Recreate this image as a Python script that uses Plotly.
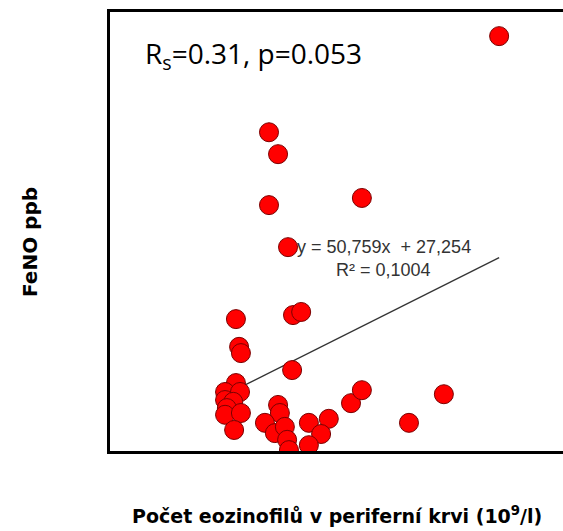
import plotly.graph_objects as go

# Eosinophil count in peripheral blood (10^9/l) and FeNO (ppb)
eos = [0.859, 0.351, 0.371, 0.351, 0.556, 0.393, 0.278, 0.404, 0.422, 0.285,
       0.289, 0.402, 0.278, 0.254, 0.287, 0.254, 0.272, 0.258, 0.254, 0.289,
       0.274, 0.371, 0.375, 0.342, 0.364, 0.386, 0.391, 0.395, 0.439, 0.483,
       0.466, 0.439, 0.532, 0.556, 0.660, 0.737]
feno = [120.4, 98.9, 94.0, 82.6, 84.2, 73.2, 57.1, 58.0, 58.7, 50.9,
        49.5, 45.7, 42.8, 40.8, 40.8, 39.0, 38.6, 37.2, 35.7, 36.1,
        32.3, 37.9, 36.1, 33.9, 31.6, 33.0, 30.1, 27.8, 33.9, 34.8,
        31.4, 28.9, 38.3, 41.2, 33.9, 40.3]

slope = 50.759
intercept = 27.254
eq_text = "y = 50,759x  + 27,254"
r2_text = "R² = 0,1004"
rs_text = "R<sub>s</sub>=0.31, p=0.053"
x_title = "Počet eozinofilů v periferní krvi (10<sup>9</sup>/l)"
y_title = "FeNO ppb"

x_fit = [min(eos), max(eos)]
y_fit = [slope * v + intercept for v in x_fit]

W, H = 563, 531
L, R, T, B = 110, 0, 12, 80
pw, ph = W - L - R, H - T - B


def px(x):
    return (x - L) / pw


def py(y):
    return (H - B - y) / ph


fig = go.Figure()
fig.add_trace(go.Scatter(x=x_fit, y=y_fit, mode="lines",
                         line=dict(color="#333333", width=1.3),
                         hoverinfo="skip", showlegend=False))
fig.add_trace(go.Scatter(x=eos, y=feno, mode="markers",
                         marker=dict(size=19, color="#FF0000",
                                     line=dict(color="#7a0000", width=1)),
                         showlegend=False))

fig.update_layout(
    width=W, height=H,
    margin=dict(l=L, r=R, t=T, b=B),
    paper_bgcolor="white", plot_bgcolor="white",
    xaxis=dict(range=[0, 1.0], showgrid=False, zeroline=False,
               showticklabels=False, ticks="", showline=True,
               linecolor="black", linewidth=2.5, mirror=True),
    yaxis=dict(range=[27.6, 125.8], showgrid=False, zeroline=False,
               showticklabels=False, ticks="", showline=True,
               linecolor="black", linewidth=2.5, mirror=False),
    annotations=[
        dict(text=rs_text, xref="paper", yref="paper", x=px(143), y=py(55),
             xanchor="left", yanchor="middle", showarrow=False,
             font=dict(family="Open Sans", size=28, color="black")),
        dict(text=eq_text, xref="paper", yref="paper", x=px(384), y=py(247),
             xanchor="center", yanchor="middle", showarrow=False,
             font=dict(family="Liberation Sans, Arial", size=18, color="#333333")),
        dict(text=r2_text, xref="paper", yref="paper", x=px(383), y=py(270),
             xanchor="center", yanchor="middle", showarrow=False,
             font=dict(family="Liberation Sans, Arial", size=18, color="#333333")),
        dict(text=f"<b>{y_title}</b>", xref="paper", yref="paper", x=px(30), y=py(242),
             xanchor="center", yanchor="middle", showarrow=False, textangle=-90,
             font=dict(family="DejaVu Sans", size=20, color="black")),
        dict(text=f"<b>{x_title}</b>", xref="paper", yref="paper", x=px(337), y=py(515),
             xanchor="center", yanchor="middle", showarrow=False,
             font=dict(family="DejaVu Sans", size=19, color="black")),
    ],
)

fig.write_html("out.html")
